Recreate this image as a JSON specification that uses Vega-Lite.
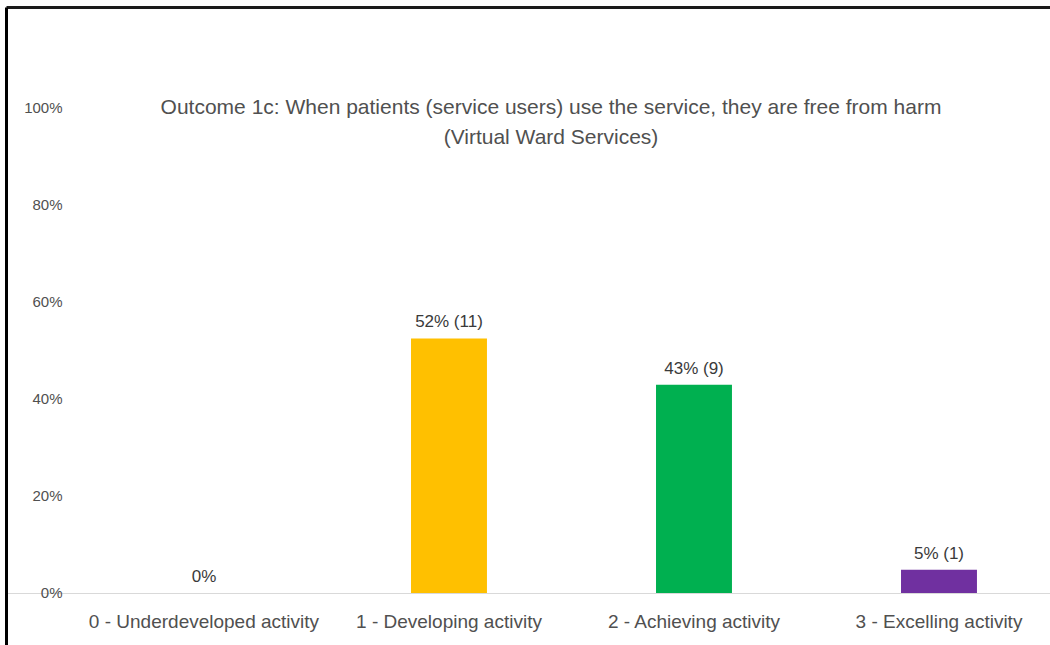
{
  "$schema": "https://vega.github.io/schema/vega-lite/v6.json",
  "width": 1044,
  "height": 638,
  "autosize": {"type": "none"},
  "padding": {"left": 6, "top": 7, "right": 0, "bottom": 0},
  "background": "white",
  "config": {"font": "Liberation Sans", "view": {"stroke": null}},
  "title": {
    "text": ["Outcome 1c: When patients (service users) use the service, they are free from harm", "(Virtual Ward Services)"],
    "fontSize": 21,
    "fontWeight": "normal",
    "color": "#505050",
    "lineHeight": 30,
    "anchor": "middle",
    "frame": "group",
    "offset": -141,
    "dx": 23
  },
  "data": {
    "values": [
      {"category": "0 - Underdeveloped activity", "share": 0, "label": "0%"},
      {"category": "1 - Developing activity", "share": 0.5238, "label": "52% (11)"},
      {"category": "2 - Achieving activity", "share": 0.4286, "label": "43% (9)"},
      {"category": "3 - Excelling activity", "share": 0.0476, "label": "5% (1)"}
    ]
  },
  "encoding": {
    "y": {
      "field": "share", "type": "quantitative",
      "scale": {"domain": [-0.107, 1.2058], "nice": false, "zero": false},
      "axis": {"orient": "left", "values": [0, 0.2, 0.4, 0.6, 0.8, 1], "format": ".0%", "domain": true, "domainColor": "#000000", "domainWidth": 3, "ticks": false, "tickSize": 0, "grid": false, "labelPadding": -56, "labelAlign": "right", "labelBaseline": "middle", "labelFontSize": 15, "labelColor": "#505050", "labelFlush": false, "labelOverlap": false, "title": null}
    }
  },
  "layer": [
    {
      "mark": {"type": "bar"},
      "encoding": {
        "x": {
          "field": "category", "type": "nominal", "sort": null,
          "scale": {"paddingInner": 0.69, "paddingOuter": 0.4756, "align": 0.6866},
          "axis": {"orient": "bottom", "offset": -52, "domainColor": "#d9d9d9", "domainWidth": 1, "ticks": false, "tickSize": 0, "labelAngle": 0, "labelFontSize": 19, "labelLimit": 0, "labelColor": "#505050", "labelPadding": 19, "title": null, "grid": false}
        },
        "y2": {"datum": 0},
        "color": {
          "field": "category", "type": "nominal",
          "scale": {"domain": ["0 - Underdeveloped activity", "1 - Developing activity", "2 - Achieving activity", "3 - Excelling activity"], "range": ["#A6A6A6", "#FFC000", "#00B050", "#7030A0"]},
          "legend": null
        }
      }
    },
    {
      "mark": {"type": "text", "baseline": "bottom", "dy": -7, "fontSize": 17, "color": "#3a3a3a"},
      "encoding": {
        "x": {
          "field": "category", "type": "nominal", "sort": null,
          "axis": {"orient": "top", "labels": false, "ticks": false, "tickSize": 0, "domain": true, "domainColor": "#1a1a1a", "domainWidth": 3, "title": null, "grid": false}
        },
        "text": {"field": "label"}
      }
    }
  ],
  "resolve": {"axis": {"x": "independent"}}
}
